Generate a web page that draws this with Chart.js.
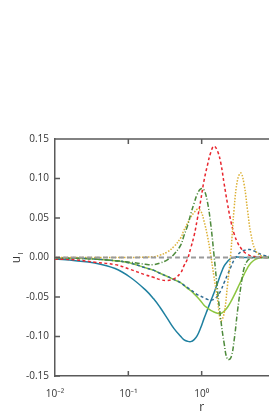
<!DOCTYPE html>
<html>
<head>
<meta charset="utf-8">
<script src="https://cdn.jsdelivr.net/npm/chart.js@4/dist/chart.umd.min.js"></script>
<style>
    html, body { margin: 0; padding: 0; background: #fff; overflow: hidden; }
    #wrap { width: 285px; height: 420px; }
</style>
</head>
<body>
<div id="wrap"><canvas id="chart" width="285" height="420"></canvas></div>
<script>
// radial coordinate (shared by all curves)
const rValues = [0.01, 0.019, 0.035, 0.066, 0.106, 0.171, 0.22, 0.27, 0.34, 0.42, 0.52, 0.57,
    0.64, 0.71, 0.79, 0.87, 0.97, 1.07, 1.2, 1.33, 1.47, 1.64, 1.82, 2.02, 2.25, 2.5, 2.77,
    3.08, 3.42, 3.8, 4.22, 4.69, 5.5, 6.9, 8.8, 10];

const tealSolid = [-0.002, -0.004, -0.007, -0.014, -0.025, -0.041, -0.052, -0.063, -0.077, -0.090,
    -0.100, -0.104, -0.106, -0.1065, -0.104, -0.099, -0.089, -0.078, -0.066, -0.055, -0.045,
    -0.033, -0.021, -0.011, -0.005, -0.001, 0, 0.0005, 0.0003, 0, 0, 0, 0, 0, 0, 0];

const redDashed = [-0.002, -0.003, -0.006, -0.009, -0.015, -0.022, -0.025, -0.028, -0.029, -0.027,
    -0.019, -0.011, -0.002, 0.012, 0.028, 0.048, 0.072, 0.096, 0.117, 0.133, 0.141, 0.135,
    0.120, 0.094, 0.068, 0.046, 0.030, 0.019, 0.012, 0.007, 0.004, 0.002, 0.001, 0, 0, 0];

const yellowDotted = [0, 0, 0, 0, 0, 0.0005, 0.001, 0.003, 0.007, 0.014, 0.025, 0.034, 0.043, 0.051,
    0.057, 0.061, 0.059, 0.047, 0.027, 0.003, -0.024, -0.052, -0.080, -0.071, -0.035, 0.006,
    0.062, 0.098, 0.107, 0.092, 0.060, 0.030, 0.008, 0.001, 0, 0];

const greenDashDot = [-0.001, -0.001, -0.002, -0.004, -0.006, -0.0085, -0.009, -0.007, -0.003, 0.004,
    0.016, 0.027, 0.040, 0.055, 0.069, 0.080, 0.087, 0.086, 0.070, 0.042, 0.004, -0.040,
    -0.078, -0.108, -0.129, -0.127, -0.105, -0.068, -0.037, -0.013, -0.004, -0.001, 0, 0, 0, 0];

const blueDashed = [-0.001, -0.001, -0.002, -0.004, -0.007, -0.013, -0.016, -0.020, -0.024, -0.028,
    -0.032, -0.035, -0.038, -0.041, -0.044, -0.047, -0.049, -0.051, -0.053, -0.054, -0.053,
    -0.049, -0.042, -0.032, -0.022, -0.012, -0.003, 0.003, 0.007, 0.009, 0.010, 0.010, 0.007,
    0.003, 0.001, 0];

const limeSolid = [-0.001, -0.001, -0.002, -0.004, -0.007, -0.013, -0.016, -0.020, -0.024, -0.028,
    -0.032, -0.035, -0.039, -0.042, -0.046, -0.050, -0.055, -0.060, -0.064, -0.067, -0.069,
    -0.0705, -0.071, -0.068, -0.063, -0.056, -0.048, -0.039, -0.030, -0.021, -0.013, -0.007,
    -0.002, 0, 0, 0];

const zeroLine = rValues.map(() => 0);

const xTickValues = [0.01, 0.1, 1, 10];
const xTickLabels = ['10\u207B\u00B2', '10\u207B\u00B9', '10\u2070', ''];
const yTickValues = [-0.15, -0.10, -0.05, 0, 0.05, 0.10, 0.15];

const AXIS = '#5a5a5a';
const TEXT = '#333';
const FONT = '"Open Sans", "Noto Sans", sans-serif';

function series(data, color, dash, width = 1.5) {
    return {
        data: rValues.map((r, i) => ({ x: r, y: data[i] })),
        borderColor: color, borderDash: dash, borderWidth: width,
        pointRadius: 0, fill: false, tension: 0.4,
    };
}

// frame, inward ticks and axis titles
const framePlugin = {
    id: 'frame',
    afterDatasetsDraw(chart) {
        const { ctx, chartArea: a, scales: { x, y } } = chart;
        ctx.save();
        ctx.strokeStyle = AXIS;
        ctx.lineWidth = 1.5;
        ctx.beginPath();
        ctx.moveTo(a.left, a.top); ctx.lineTo(a.right + 2, a.top);
        yTickValues.forEach((v) => {
            const py = y.getPixelForValue(v);
            ctx.moveTo(a.left, py); ctx.lineTo(a.left + 5, py);
        });
        xTickValues.slice(1).forEach((v) => {
            const px = x.getPixelForValue(v);
            ctx.moveTo(px, a.bottom); ctx.lineTo(px, a.bottom - 5);
            ctx.moveTo(px, a.top); ctx.lineTo(px, a.top + 5);
        });
        ctx.stroke();

        ctx.fillStyle = TEXT;
        ctx.font = '12px ' + FONT;
        ctx.textAlign = 'center';
        ctx.textBaseline = 'middle';
        ctx.fillText('r', x.getPixelForValue(1), 408);

        ctx.translate(17, y.getPixelForValue(0));
        ctx.rotate(-Math.PI / 2);
        ctx.fillText('u', -2, 0);
        ctx.font = '8px ' + FONT;
        ctx.fillText('l', 4, 4);
        ctx.restore();
    },
};

new Chart(document.getElementById('chart'), {
    type: 'line',
    data: {
        datasets: [
            series(zeroLine, '#9a9a9a', [5, 3], 2),
            series(greenDashDot, '#4d8a3b', [5, 2, 1, 2]),
            series(yellowDotted, '#dcb033', [1.5, 1.5]),
            series(redDashed, '#e8262e', [3, 2.5]),
            series(blueDashed, '#2e6b92', [3, 2.5]),
            series(limeSolid, '#8cc63f', []),
            series(tealSolid, '#1f80a0', []),
        ],
    },
    options: {
        responsive: false,
        animation: false,
        layout: { padding: { top: 139, right: 10, left: 0, bottom: 0 } },
        plugins: { legend: { display: false }, tooltip: { enabled: false } },
        scales: {
            x: {
                type: 'logarithmic', min: 0.01, max: 10,
                afterBuildTicks: (s) => { s.ticks = xTickValues.map((v) => ({ value: v })); },
                afterFit: (s) => { s.height = 44; },
                grid: { display: false },
                border: { display: true, color: AXIS, width: 1.5 },
                ticks: {
                    autoSkip: false, maxRotation: 0, padding: 4, color: TEXT,
                    font: { size: 10, family: FONT },
                    callback: (v) => xTickLabels[xTickValues.indexOf(v)] ?? '',
                },
            },
            y: {
                min: -0.15, max: 0.15,
                afterBuildTicks: (s) => { s.ticks = yTickValues.map((v) => ({ value: v })); },
                afterFit: (s) => { s.width = 55; },
                grid: { display: false, drawTicks: false },
                border: { display: true, color: AXIS, width: 1.5 },
                ticks: {
                    padding: 6, color: TEXT,
                    font: { size: 10, family: FONT },
                    callback: (v) => v.toFixed(2),
                },
            },
        },
    },
    plugins: [framePlugin],
});
</script>
</body>
</html>
